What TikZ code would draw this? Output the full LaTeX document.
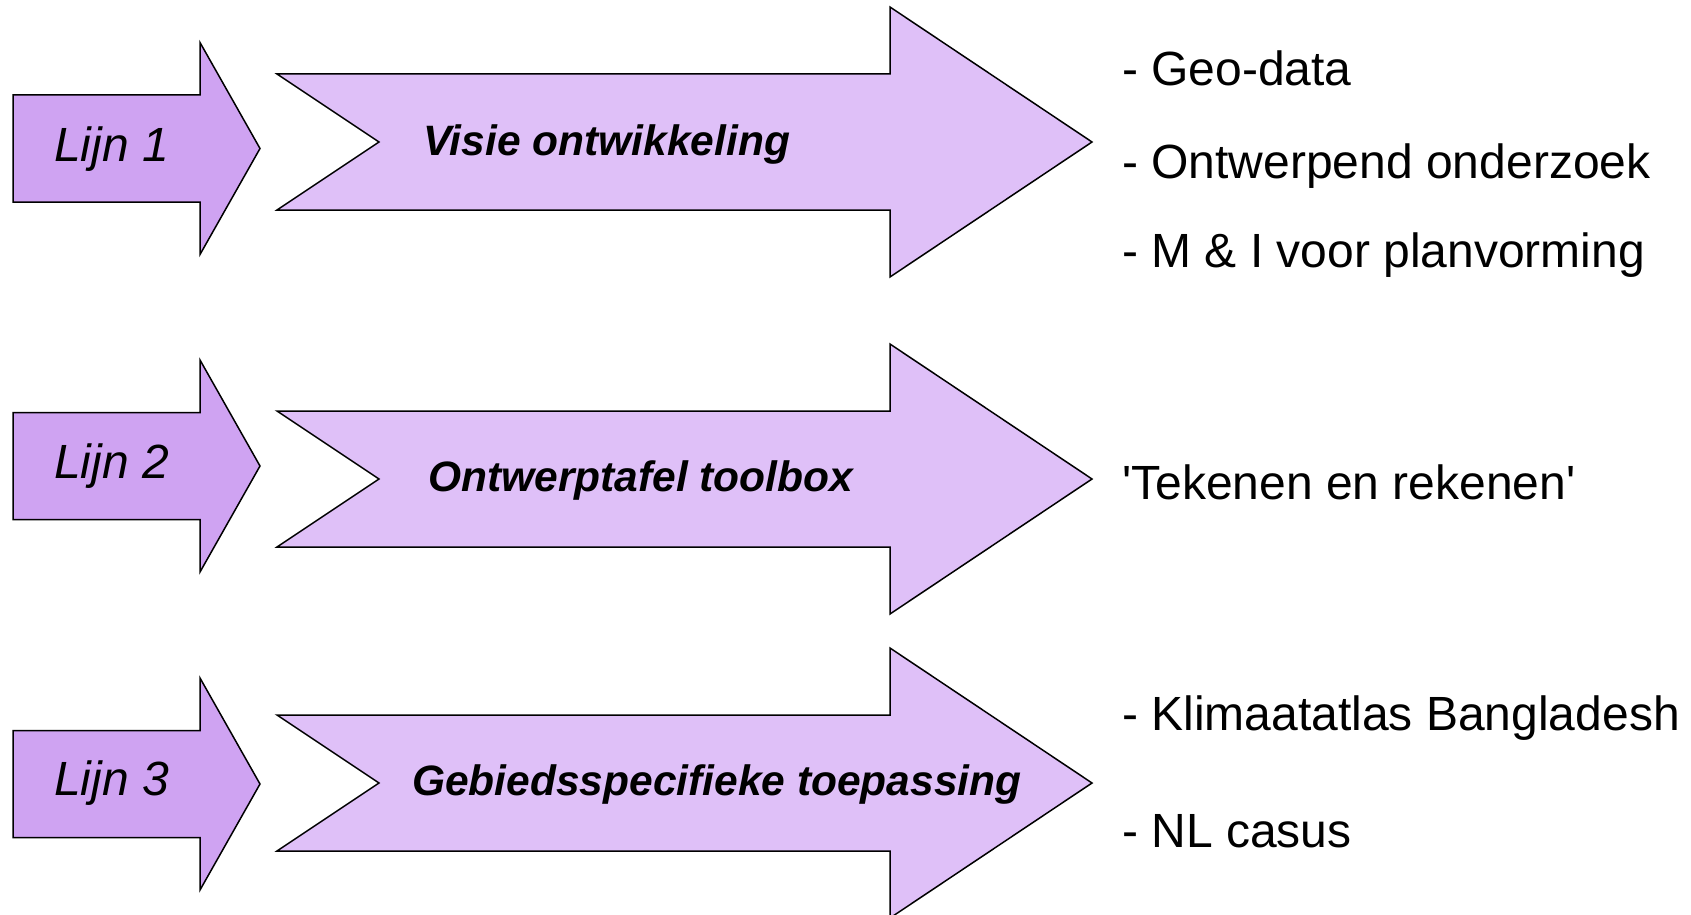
\documentclass[tikz,border=0pt]{standalone}
\usepackage{fontspec}
\setmainfont{Liberation Sans}
\usetikzlibrary{positioning}
\definecolor{lijnpaars}{RGB}{207,163,242}
\definecolor{pijlpaars}{RGB}{223,192,248}
\tikzset{
	lijnpijl/.style={draw, fill=lijnpaars, line width=1.5pt},
	hoofdpijl/.style={draw, fill=pijlpaars, line width=1.5pt},
	lijnlabel/.style={anchor=base west, inner sep=0pt, font=\fontsize{48}{56}\selectfont\itshape},
	pijllabel/.style={anchor=base west, inner sep=0pt, font=\fontsize{42.5}{50}\selectfont\bfseries\itshape},
	resultaat/.style={anchor=base west, inner sep=0pt, font=\fontsize{48}{56}\selectfont}
}

\begin{document}
\begin{tikzpicture}[x=1pt, y=-1pt]
			\useasboundingbox (0,0) rectangle (1691,915);
			\clip (0,0) rectangle (1691,915);
			\foreach \s/\b in {148.5/142, 466/479, 784/783} {
				\draw[lijnpijl] (13,\s-53.5) -- (200,\s-53.5) -- (200,\s-106) -- (260,\s)
					-- (200,\s+106) -- (200,\s+53.5) -- (13,\s+53.5) -- cycle;
				\draw[hoofdpijl] (277,\b-68) -- (890,\b-68) -- (890,\b-135) -- (1092,\b)
					-- (890,\b+135) -- (890,\b+68) -- (277,\b+68) -- (379,\b) -- cycle;
			}
			\node[lijnlabel] (L1) at (54,161) {Lijn 1};
			\node[lijnlabel] (L2) at (54,478) {Lijn 2};
			\node[lijnlabel] (L3) at (54,795) {Lijn 3};
			\node[pijllabel] (P1) at (423,155) {Visie ontwikkeling};
			\node[pijllabel] (P2) at (428,491) {Ontwerptafel toolbox};
			\node[pijllabel] (P3) at (412,795) {Gebiedsspecifieke toepassing};
			\node[resultaat] (R1) at (1122,86) {- Geo-data};
			\node[resultaat] (R2) at (1122,178) {- Ontwerpend onderzoek};
			\node[resultaat] (R3) at (1122,267) {- M \& I voor planvorming};
			\node[resultaat] (R4) at (1122,499) {\textquotesingle Tekenen en rekenen\textquotesingle};
			\node[resultaat] (R5) at (1122,730) {- Klimaatatlas Bangladesh};
			\node[resultaat] (R6) at (1122,847) {- NL casus};
		\end{tikzpicture}
\end{document}
